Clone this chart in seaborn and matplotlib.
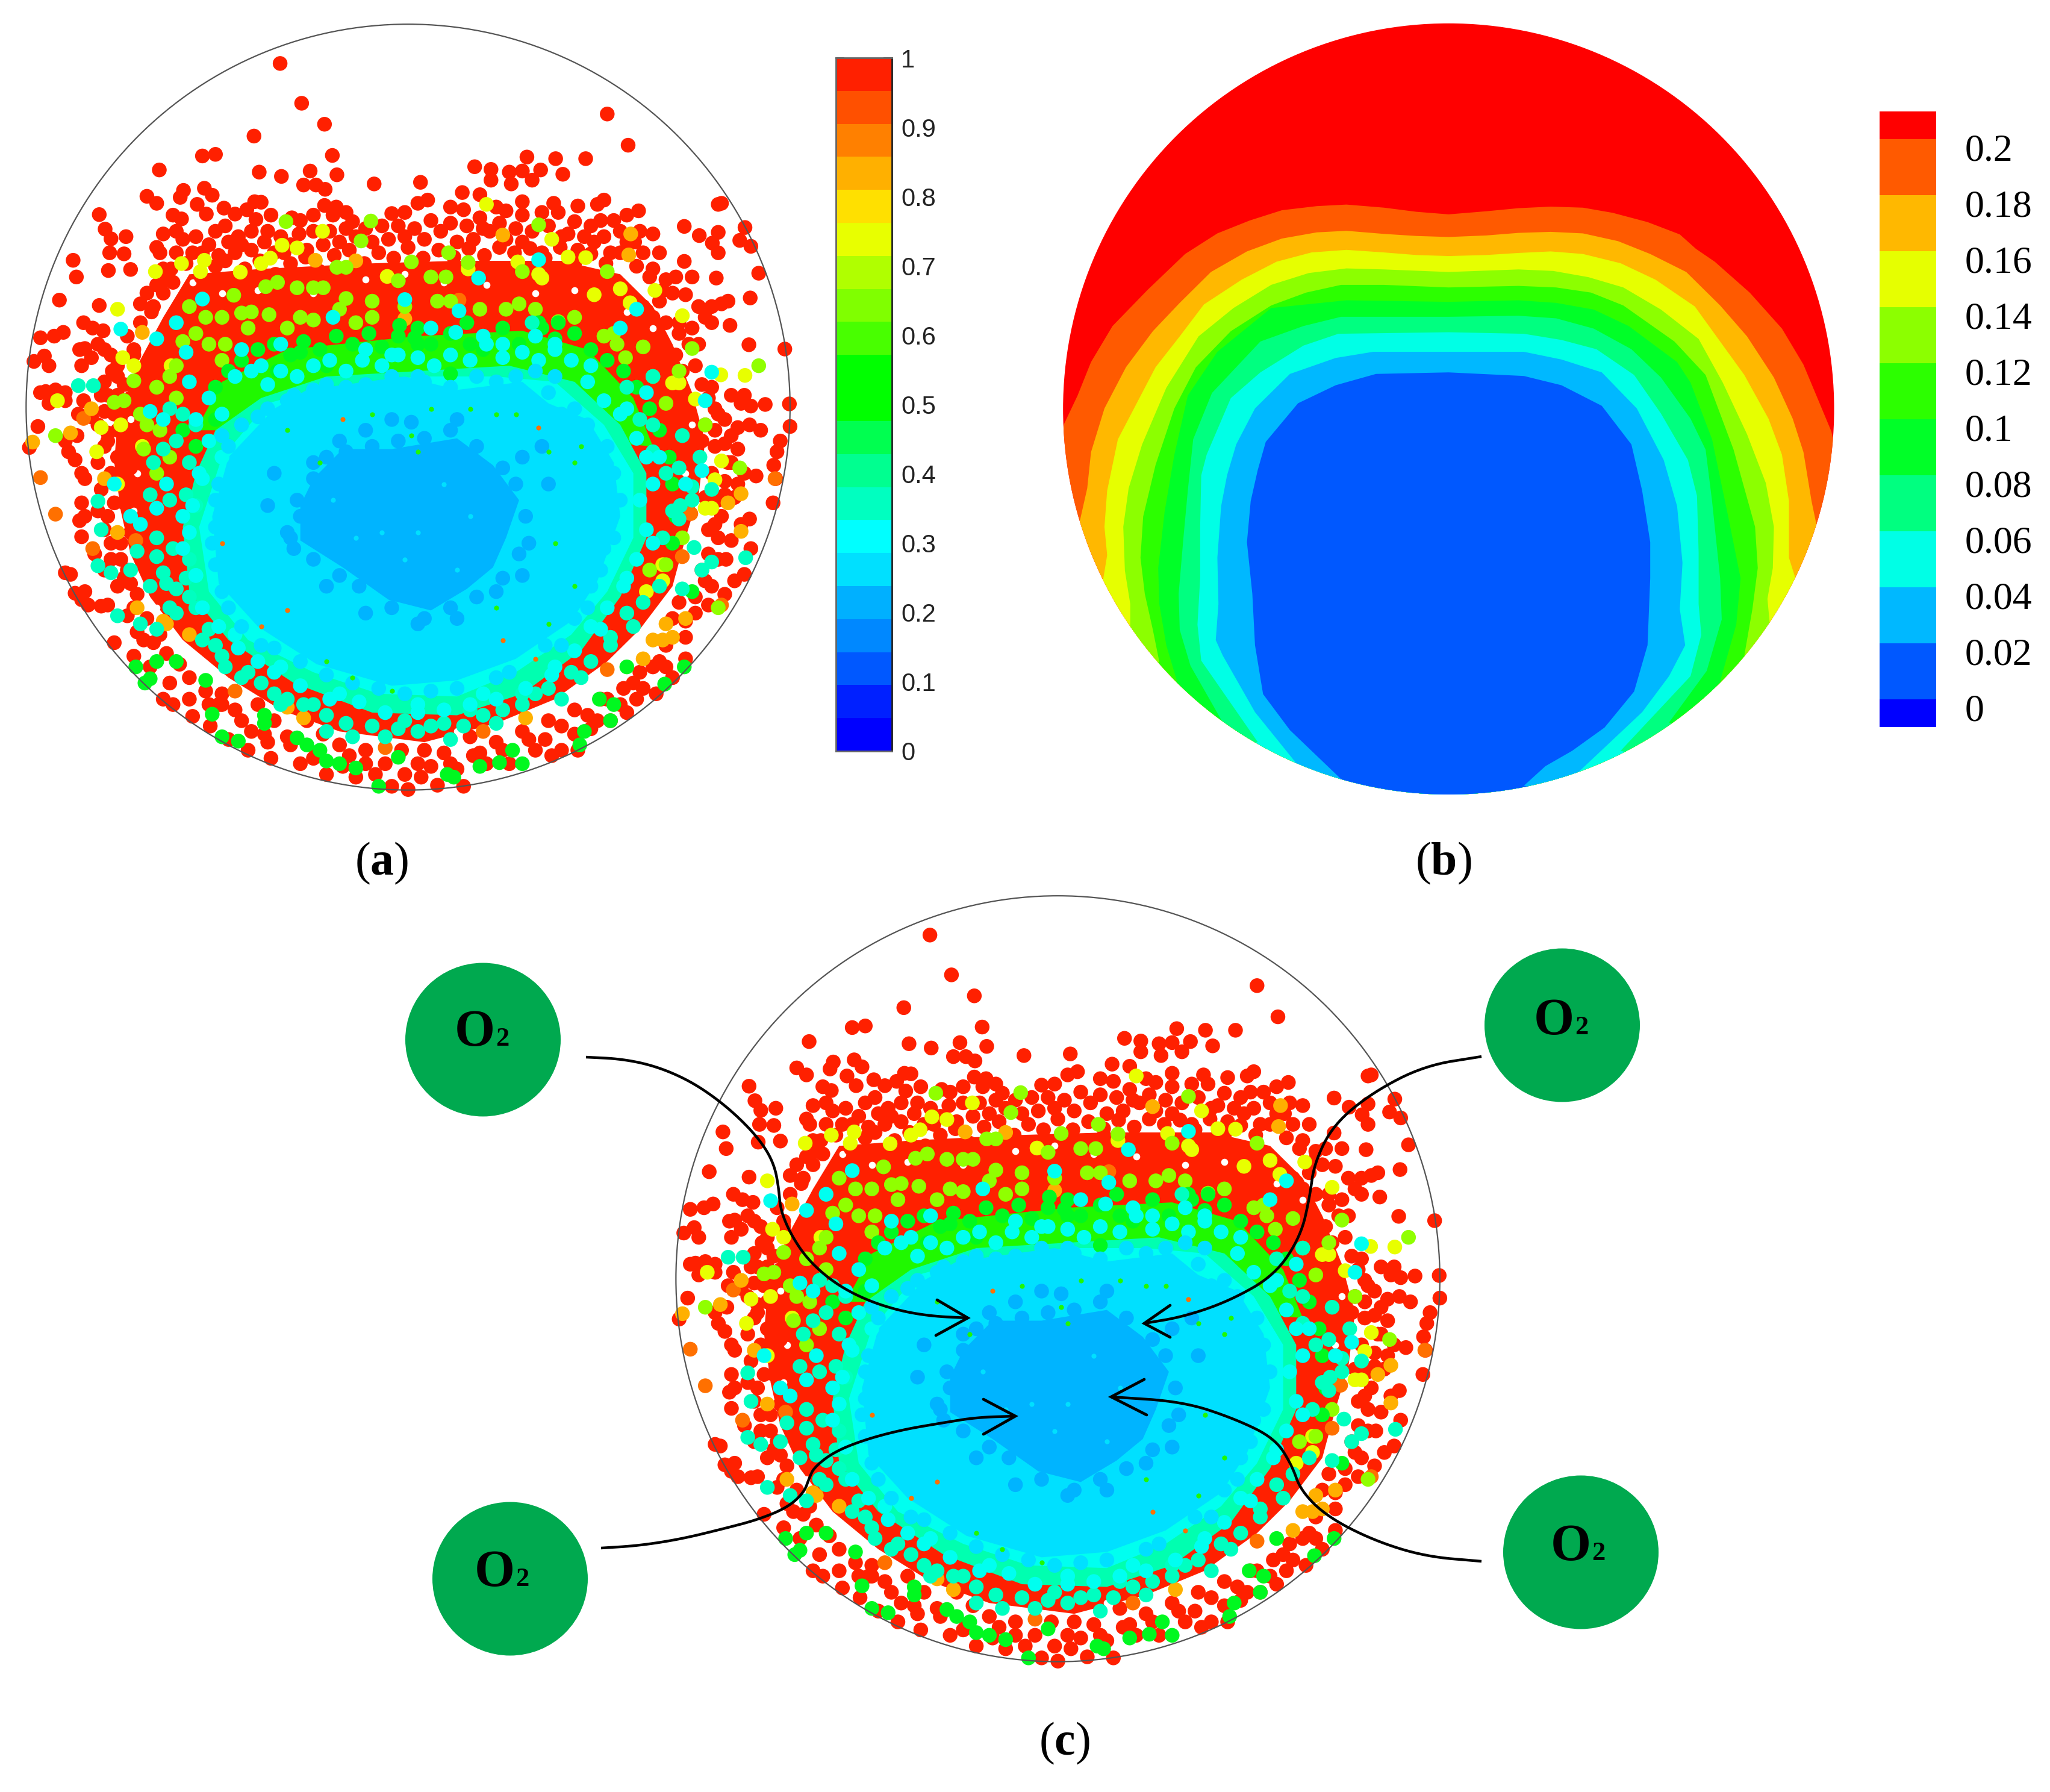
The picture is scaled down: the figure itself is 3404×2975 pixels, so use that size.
import numpy as np
import pandas as pd
import seaborn as sns
import matplotlib
matplotlib.use('Agg')
import matplotlib.pyplot as plt
from matplotlib.colors import ListedColormap
from matplotlib.patches import Ellipse

sns.set_theme(style='white')
plt.rcParams['font.family'] = ['Liberation Serif', 'DejaVu Serif']
plt.rcParams['mathtext.fontset'] = 'custom'
plt.rcParams['mathtext.rm'] = 'Liberation Serif'
plt.rcParams['mathtext.bf'] = 'Liberation Serif:bold'

W, H = 3404, 2975

######################### colour bars #########################
BAR_A_COLORS = ['#0000ff', '#0020ff', '#0058ff', '#0088ff', '#00b0ff', '#00e0ff', '#00ffff',
                '#00ffc0', '#00ff90', '#00ff50', '#00ff00', '#00ff00', '#48ff00', '#80ff00',
                '#b0ff00', '#e8ff00', '#ffe000', '#ffb000', '#ff8000', '#ff5000', '#ff2000']
BAR_A_TICKS = [0, 0.1, 0.2, 0.3, 0.4, 0.5, 0.6, 0.7, 0.8, 0.9, 1]
BAR_A_LABELS = ['0', '0.1', '0.2', '0.3', '0.4', '0.5', '0.6', '0.7', '0.8', '0.9', '1']

BAR_B_COLORS = ['#0000ff', '#0058ff', '#00b8ff', '#00ffe6', '#00ff80', '#00ff28',
                '#2cff00', '#8cff00', '#e6ff00', '#ffb800', '#ff5a00', '#ff0000']
BAR_B_SPANS = [1, 2, 2, 2, 2, 2, 2, 2, 2, 2, 2, 1]
BAR_B_LABELS = ['0.2', '0.18', '0.16', '0.14', '0.12', '0.1', '0.08', '0.06', '0.04', '0.02', '0']

######################### contour outlines, panel b #########################
L1 = [(75,800),(100,745),(125,680),(165,610),(230,540),(300,470),(360,430),(420,405),(480,385),(545,377),(600,374),(670,380),(730,388),(790,393),(860,387),(920,381),(980,378),(1040,380),(1095,390),(1160,408),(1220,432),(1250,460),(1285,485),(1350,545),(1410,615),(1450,685),(1480,760),(1502,815)]
L2 = [(105,985),(118,925),(125,855),(150,770),(190,690),(240,620),(290,565),(348,505),(415,465),(480,440),(545,428),(600,425),(670,431),(730,435),(790,437),(860,434),(920,429),(980,427),(1040,430),(1105,445),(1165,470),(1232,505),(1295,570),(1345,630),(1395,710),(1430,790),(1450,855),(1465,950),(1473,990)]
L3 = [(148,1100),(155,1055),(150,1000),(155,930),(175,830),(205,770),(245,690),(290,630),(335,568),(405,520),(470,485),(535,467),(600,462),(670,467),(730,472),(790,474),(860,472),(920,468),(980,465),(1040,470),(1110,488),(1175,520),(1248,572),(1295,640),(1340,705),(1385,790),(1410,860),(1423,950),(1423,1060),(1435,1100)]
L4 = [(198,1195),(198,1150),(188,1085),(185,1000),(195,925),(220,840),(265,730),(325,630),(390,575),(460,530),(530,507),(600,498),(670,500),(790,505),(920,500),(985,503),(1050,515),(1115,535),(1185,578),(1255,635),(1300,720),(1345,820),(1380,915),(1395,1000),(1393,1080),(1383,1140),(1387,1185)]
L5 = [(252,1262),(240,1200),(225,1130),(217,1060),(222,980),(245,880),(280,770),(320,690),(385,620),(460,570),(525,545),(590,530),(670,530),(790,535),(920,532),(990,535),(1055,545),(1115,570),(1210,640),(1268,705),(1320,850),(1360,1000),(1365,1080),(1355,1160),(1340,1250)]
L6 = [(285,1300),(265,1230),(252,1150),(250,1080),(262,970),(280,860),(305,745),(360,660),(460,575),(525,568),(600,560),(790,563),(920,560),(990,565),(1060,578),(1125,610),(1215,680),(1240,720),(1280,830),(1310,980),(1333,1100),(1325,1190),(1295,1300)]
L7 = [(370,1380),(310,1270),(290,1200),(288,1130),(297,1020),(305,930),(315,830),(350,740),(440,640),(520,610),(590,592),(790,592),(920,590),(990,595),(1060,615),(1130,655),(1185,710),(1240,790),(1268,850),(1280,950),(1295,1100),(1298,1180),(1270,1280),(1200,1380)]
L8 = [(435,1418),(330,1260),(323,1190),(328,1100),(328,1000),(330,900),(340,860),(385,750),(440,700),(520,648),(585,625),(790,622),(930,625),(1000,637),(1065,655),(1135,705),(1185,780),(1235,870),(1252,940),(1255,1050),(1255,1150),(1260,1210),(1240,1290),(1110,1435)]
L9 = [(505,1457),(430,1360),(370,1250),(357,1220),(362,1150),(360,1060),(367,960),(378,900),(395,840),(430,770),(495,703),(580,672),(650,660),(790,660),(930,660),(1000,675),(1075,700),(1140,770),(1190,870),(1215,960),(1225,1070),(1220,1160),(1230,1230),(1200,1290),(1150,1360),(1030,1478)]
L10 = [(590,1490),(545,1445),(495,1395),(445,1325),(430,1230),(425,1130),(415,1030),(422,950),(435,890),(450,835),(510,760),(580,725),(655,703),(790,700),(930,707),(1000,725),(1075,765),(1130,840),(1150,930),(1165,1030),(1165,1100),(1160,1230),(1135,1320),(1080,1390),(1020,1435),(970,1465),(930,1503)]
CONTOURS = [L1, L2, L3, L4, L5, L6, L7, L8, L9, L10]

######################### particles, panels a and c #########################
# dense areas under the particles
RED_BLOB = [(290,510),(400,500),(560,490),(700,485),(860,485),(950,510),(1000,570),(1030,640),(1060,730),(1080,820),(1070,920),(1050,1000),(1030,1090),(980,1170),(930,1230),(850,1300),(760,1345),(650,1380),(520,1360),(430,1320),(350,1260),(280,1190),(230,1110),(200,1030),(185,950),(175,860),(180,780),(210,680),(250,590)]
GREEN_BLOB = [(300,800),(340,710),(440,650),(640,625),(800,615),(900,650),(970,740),(1000,830),(700,800)]
TEAL_BLOB = [(300,880),(330,800),(400,740),(500,700),(640,690),(780,680),(880,710),(950,790),(990,880),(990,1000),(950,1110),(890,1210),(800,1290),(700,1330),(570,1325),(450,1270),(350,1190),(290,1100),(280,980)]
AQUA_BLOB = [(340,850),(410,750),(500,720),(640,700),(760,700),(850,710),(925,790),(970,880),(970,1000),(930,1100),(875,1180),(790,1250),(700,1295),(580,1290),(480,1250),(380,1190),(320,1100),(305,980)]
CYAN_BLOB = [(350,850),(420,760),(470,725),(560,710),(620,700),(700,725),(800,710),(840,750),(900,780),(940,860),(950,960),(915,1080),(875,1155),(790,1225),(700,1265),(600,1275),(485,1235),(395,1165),(335,1085),(325,960)]
BLUE_BLOB = [(480,890),(525,835),(600,835),(700,815),(755,865),(795,930),(775,1000),(755,1055),(715,1095),(660,1135),(595,1115),(525,1055),(460,1005),(460,940)]

RED_PTS = [(429,118),(462,192),(497,231),(389,253),(930,212),(962,270),(310,290),(330,287),(509,289),(244,316),(397,320),(431,328),(475,318),(516,325),(573,342),(465,344),(484,344),(498,352),(644,339),(807,292),(851,295),(897,295),(727,310),(752,315),(780,320),(800,318),(828,316),(752,335),(783,342),(862,324),(815,335),(708,358),(735,362),(800,375),(848,378),(885,383),(915,380),(925,372),(1100,380),(1105,378),(1141,423),(1150,458),(1162,508),(1149,554),(1048,421),(1071,438),(1100,432),(1133,447),(1091,452),(1100,470),(1048,486),(1097,517),(1202,649),(1209,751),(1210,793),(1147,641),(1118,605),(112,484),(117,515),(91,558),(152,399),(161,426),(170,444),(193,440),(168,470),(190,472),(166,503),(200,501),(152,568),(225,365),(240,378),(281,354),(276,367),(313,350),(325,363),(302,380),(343,387),
(265,400),(278,407),(316,398),(360,398),(378,390),(390,375),(400,376),(415,400),(392,408),(447,405),(460,410),(497,382),(515,385),(530,395),(540,412),(510,400),(480,400),(600,397),(620,395),(640,378),(655,372),(690,385),(710,390),(735,405),(760,385),(775,392),(800,400),(830,395),(855,395),(880,412),(905,420),(920,410),(940,410),(960,400),(978,392),(980,430),(1000,435),(330,430),(345,420),(365,440),(350,450),(270,430),(250,435),(240,460),(300,440),(320,455),(385,430),(410,430),(430,440),
(245,470),(270,470),(295,470),(335,475),(360,470),(385,465),(420,470),(445,455),(470,465),(495,455),(520,450),(545,440),(570,450),(595,445),(620,440),(650,445),(675,430),(700,450),(725,445),(750,430),(775,445),(800,450),(830,470),(860,440),(885,465),(910,450),(935,470),(960,450),(985,470),(1010,470),(250,500),(265,525),(250,545),(215,565),(235,570),(1000,500),(1020,520),(1035,515),(1060,515),(1010,560),
(1030,545),(1050,548),(1070,570),(1090,570),(1105,565),(1115,560),(1020,600),(1000,590),(985,570),(1040,600),(1080,590),(1090,600),(1060,610),(1070,640),(1020,650),(1000,640),(1035,660),(1020,680),(1045,690),(1075,715),(1085,740),(1120,735),(1135,750),(1150,755),(1172,752),(1140,735),(1095,760),(1110,780),(1130,795),(1148,790),(1165,800),(1195,820),(1190,840),(1185,865),(1188,890),(1184,935),(1080,790),(1095,800),(1120,810),(1075,820),(1095,830),(1130,835),(1158,885),(1120,860),(1140,880),(1110,895),(1130,900),(1090,880),(1100,930),(1125,925),(1080,925),(1105,960),(1148,965),(1135,975),(1085,985),(1100,1000),(1120,1005),(1150,1020),(1112,1040),(1085,1030),(1075,1060),(1140,1068),(1125,1080),(1090,1090),(1110,1105),(1085,1125),(1065,1110),(1050,1155),(1040,1120),(1030,1150),(1050,1225),(1020,1240),
(62,628),(83,625),(97,618),(128,600),(142,610),(158,615),(130,648),(122,650),(150,640),(140,665),(160,650),(170,660),(205,650),(160,710),(52,672),(68,662),(75,680),(125,680),(180,700),(70,728),(62,730),(100,730),(85,725),(75,750),(100,745),(172,690),(128,745),(140,775),(155,735),(160,765),(180,735),(200,740),(185,770),(120,770),(58,793),(45,832),(118,810),(100,820),(105,840),(115,855),(125,880),(130,890),(160,830),(165,805),(180,800),(205,800),(180,850),(200,870),(215,860),(125,935),(130,960),(122,968),(150,950),(125,998),(165,960),(200,990),(190,935),(210,910),(170,1010),(145,1030),(185,1040),(160,1060),(190,1075),(100,1065),(108,1068),(115,1103),(125,1115),(130,1100),(155,1127),(135,1125),(165,1125),(200,1085),(205,1130),(210,1175),(175,1195),(220,1190),(205,1220),(230,1240),(260,1270),(250,1300),(265,1310),(290,1300),(295,1332),(320,1310),(335,1310),(322,1350),(350,1375),(380,1395),(385,1360),(415,1410),(410,1380),(460,1420),(500,1440),(485,1400),(525,1425),(545,1445),(560,1420),(600,1462),(625,1468),(620,1440),(645,1445),(660,1425),(670,1460),(710,1462),(700,1430),(745,1420),(780,1420),(735,1400),(820,1395),(845,1405),(860,1395),(885,1395),(835,1375),(880,1365),(905,1355),(935,1340),(960,1325),(975,1300),(1005,1290),(1030,1260),(985,1280),(950,1310),(915,1340),
(340,1290),(360,1320),(395,1310),(420,1340),(440,1370),(470,1340),(495,1365),(520,1385),(560,1395),(590,1420),(615,1395),(650,1395),(680,1400),(720,1370),(760,1380),(800,1360),(840,1340),(880,1320),(920,1300),(955,1280),(980,1250),(1010,1230)]
RED_EDGE_PTS = [(262,500),(285,490),(308,515),(330,495),(352,520),(375,500),(398,485),(422,510),(445,490),(468,478),(490,505),(512,475),(535,465),(558,490),(580,470),(603,480),(625,460),(648,480),(672,465),(695,478),(718,462),(742,475),(765,460),(788,470),(812,462),(835,480),(858,460),(880,490),(905,472),(928,490),(950,470),(975,495),(995,515),(1015,540),
(255,520),(240,530),(225,545),(280,445),(310,470),(345,485),(370,455),(405,450),(435,470),(458,435),(480,430),(505,430),(530,425),(560,425),(585,420),(610,420),(635,425),(660,410),(690,415),(715,420),(740,425),(765,415),(790,425),(815,430),(840,420),(870,435),(895,440),(925,440),(950,430),(972,450),
(232,580),(215,600),(195,625),(205,660),(180,680),(190,715),(165,735),(175,770),(150,790),(165,820),(150,860),(170,880),(155,910),(175,935),(160,985),(185,1010),(170,1040),(195,1060),(180,1090),(210,1105),(195,1145),(225,1150),(235,1195),(255,1215),(245,1180),(275,1235),(290,1260),(315,1285),(340,1310),(370,1340),(405,1365),(445,1385),(480,1410),(535,1405),(575,1440),(640,1420),(690,1420),(725,1405),(770,1395),(810,1375),(860,1350),(900,1330),(930,1300),(970,1270),(1000,1240),(1020,1200),(1050,1185),(1065,1140),(1080,1080),(1100,1040),(1095,975),(1110,920),(1115,860),(1110,825),(1100,770),(1090,720),(1065,680),(1055,640),(1040,620)]
DARK_ORANGE_PTS = [(703,558),(128,778),(62,888),(85,956),(208,1005),(142,1020),(360,1285),(590,1390),(740,1360),(930,1245),(1187,890),(1058,955),(1045,1035),(1105,1125)]
ORANGE_PTS = [(770,437),(966,435),(963,474),(483,484),(545,485),(620,593),(612,660),(218,618),(108,805),(50,822),(140,760),(160,890),(180,990),(255,1160),(290,1180),(250,1155),(210,1130),(440,1315),(465,1335),(805,1335),(985,1225),(1015,1190),(1030,1185),(1020,1160),(1115,935),(1135,988),(1135,918),(1050,1150),(1000,1190)]
YELLOW_PTS = [(494,430),(432,456),(455,461),(278,490),(313,484),(238,505),(307,505),(368,506),(400,490),(414,480),(593,514),(825,510),(845,445),(870,478),(897,479),(793,487),(717,500),(830,517),(910,548),(950,537),(1003,540),(965,563),(1045,587),(180,575),(188,665),(205,680),(262,680),(88,745),(155,795),(185,790),(218,830),(148,840),(180,900),(1104,697),(1141,698),(1030,712),(1040,712),(1065,742),(1080,945),(1090,945),(1095,892),(1105,857),(745,380),(1015,1050),(1015,1080),(990,1100)]
LIME_PTS = [(438,412),(568,411),(825,418),(553,448),(687,470),(516,497),(530,497),(630,487),(717,488),(800,505),(660,515),(683,515),(610,522),(930,505),(358,549),(407,533),(425,525),(455,535),(480,535),(495,535),(570,560),(530,555),(290,570),(315,590),(340,590),(370,582),(385,580),(412,585),(440,610),(480,595),(545,600),(570,590),(670,560),(735,575),(775,575),(795,565),(855,598),(925,625),(940,620),(985,645),(958,665),(1060,648),(1040,690),(340,670),(320,640),(345,640),(280,635),(270,680),(240,720),(205,708),(175,748),(215,770),(220,835),(190,745),(85,810),(1162,680),(1080,790),(1045,1000),(1133,870),(1020,1050),(995,1060),(1100,1130),
(300,620),(380,610),(460,590),(520,575),(620,570),(690,560),(820,575),(880,590),(945,640),(1000,700),(1020,750),(260,700),(245,800),(225,790),(260,850),(240,880),(270,740)]
GREEN_PTS = [(612,605),(635,628),(690,695),(580,1462),(545,1428),(500,1415),(340,1370),(365,1378),(405,1345),(455,1372),(470,1385),(490,1395),(520,1420),(610,1408),(685,1440),(695,1445),(735,1425),(765,1418),(800,1420),(785,1395),(888,1385),(895,1360),(935,1340),(918,1300),(940,1310),(325,1328),(405,1330),(208,1240),(222,1270),(230,1262),(1018,1272),(1048,1240),(960,1240),(240,1230),(270,1230),(315,1265),(855,600),(830,610),(720,640),(640,640),(500,680),(425,690),(460,655),(280,800),(300,830),(330,780),(1060,1100),(1030,1010),
(330,720),(350,690),(370,670),(395,650),(420,640),(445,660),(465,635),(490,650),(515,625),(540,640),(565,620),(585,645),(610,625),(640,610),(660,640),(690,620),(715,600),(740,650),(770,610),(795,640),(825,600),(850,630),(880,620),(905,650),(930,670),(955,690),(975,720),(995,760),(1010,800),(1025,850),(1030,900),(1035,960)]
TEAL_PTS = [(120,717),(143,717),(150,932),(155,985),(150,1052),(170,1065),(180,1145),(215,1160),(240,1170),(200,1060),(210,1025),(240,1000),(250,1065),(270,1095),(290,1110),(320,1170),(330,1200),(380,1250),(345,1240),(420,1290),(500,1360),(540,1370),(590,1370),(660,1350),(690,1375),(760,1345),(820,1290),(860,1300),(890,1260),(935,1185),(970,1165),(1045,1095),(1090,1045),(1075,1060),(1142,1037),(1063,1018),(1040,965),(1090,910),(1042,940),(1060,905),(1072,850),(1045,810),(1000,790),(815,600),(440,1300),(480,1310),(620,1340),(720,1320),(800,1310),(230,1090),(260,1130),
(260,760),(280,770),(270,820),(300,790),(290,860),(250,835),(235,860),(260,930),(230,920),(285,920),(300,940),(240,1035),(265,1020),(290,1040),(255,1085),(285,1075),(300,1130),(270,1140),(310,1190),(340,1220),(370,1260),(400,1270),(430,1310),(465,1310),(500,1330),(530,1345),(570,1350),(610,1355),(640,1360),(680,1345),(710,1350),(740,1330),(770,1320),(800,1290),(840,1280),(875,1250),(905,1230),(935,1200),(960,1140),(985,1120),(1010,1090),(1015,1000),(1030,950),(1020,880),(1000,840),(980,780),(1040,870),(1060,930),(1000,700),(960,720)]
AQUA_PTS = [(185,612),(230,765),(310,556),(285,655),(240,630),(270,600),(825,483),(733,517),(620,557),(703,578),(660,610),(698,618),(740,625),(770,640),(820,625),(850,650),(950,610),(975,575),(1090,692),(1080,745),(1075,875),(990,730),(960,760),(1010,850),(1050,900),(370,650),(400,680),(430,640),(510,590),(560,650),(600,660),(905,680),(250,780),(290,710),(320,740),(300,780),(340,850),(310,890),(255,900),(200,960),(215,975),(175,900),(240,945),(280,960),(980,930),(1000,1010),(955,1090),(920,1170),(850,1240),(740,1290),(640,1310),(520,1290),(420,1250),(360,1180),(300,1070),(280,1020),
(360,700),(385,690),(410,715),(430,690),(455,700),(480,680),(505,670),(530,690),(555,670),(585,680),(610,660),(640,665),(665,680),(690,660),(720,670),(745,640),(770,665),(800,655),(825,670),(850,640),(875,670),(900,710),(925,745),(950,770),(975,815),(990,850),(1000,900),(990,985),(975,1040),(960,1075),(930,1130),(905,1165),(880,1210),(845,1255),(805,1280),(760,1300),(720,1310),(680,1320),(640,1325),(590,1325),(550,1305),(505,1300),(460,1275),(430,1240),(395,1230),(365,1205),(335,1165),(310,1130),(300,1070),(290,990),(295,940),(305,880),(320,820),(340,770)]
CYAN_PTS = [(395,775),(440,745),(480,725),(530,720),(600,700),(650,710),(760,710),(820,690),(850,700),(880,760),(900,790),(930,830),(940,880),(950,930),(940,1000),(920,1060),(900,1130),(860,1200),(780,1250),(700,1280),(620,1290),(540,1270),(460,1230),(400,1200),(350,1130),(330,1050),(330,980),(335,900),(350,830),
(340,810),(370,790),(410,760),(450,735),(500,715),(560,715),(640,700),(690,720),(730,700),(790,700),(840,730),(860,770),(905,830),(920,880),(930,960),(925,1020),(905,1090),(880,1150),(835,1200),(760,1260),(660,1285),(580,1280),(500,1255),(420,1205),(370,1165),(340,1100),(325,1010),(330,930)]
BLUE_PTS = [(520,820),(560,800),(600,780),(630,785),(700,780),(800,850),(830,830),(840,900),(810,1010),(800,1070),(760,1100),(700,1150),(640,1160),(560,1140),(500,1090),(450,1020),(440,990),(460,960),(480,860),(420,880),(410,940),
(480,890),(500,850),(530,840),(570,830),(610,820),(650,815),(690,800),(730,830),(770,870),(790,900),(805,960),(795,1030),(770,1075),(730,1110),(690,1130),(650,1150),(600,1130),(550,1090),(520,1070),(480,1040),(445,1000),(455,930)]
# slivers of buried particles showing between the others
GREEN_SPECKS = [(630,810),(640,840),(490,860),(440,800),(790,770),(840,840),(880,860),(890,830),(500,1230),(540,1260),(600,1285),(660,760),(720,760),(760,770),(570,770),(760,1130),(850,1010),(880,1090),(840,1160)]
RED_SPECKS = [(825,795),(525,780),(400,1165),(340,1010),(440,1135),(820,1225),(770,1190)]
AQUA_SPECKS = [(545,1000),(585,990),(640,990),(700,1060),(510,930),(720,960),(620,1040),(680,900)]
# background showing through the red band
WHITE_SPECKS = [(295,525),(340,545),(395,540),(480,545),(560,520),(620,510),(680,525),(745,530),(820,545),(880,540),(960,580),(1000,610),(1040,700),(1060,790),(1050,880),(1060,960),(200,780),(210,880),(205,950),(240,1130),(300,1250),(420,1340),(560,1390),(700,1360),(880,1300),(1000,1180)]

PARTICLE_GROUPS = [(RED_PTS, 0.97), (RED_EDGE_PTS, 0.97), (DARK_ORANGE_PTS, 0.9), (ORANGE_PTS, 0.85),
                   (YELLOW_PTS, 0.75), (LIME_PTS, 0.65), (GREEN_PTS, 0.5), (TEAL_PTS, 0.37),
                   (AQUA_PTS, 0.3), (CYAN_PTS, 0.27), (BLUE_PTS, 0.22)]
LEVEL_COLORS = {0.97: '#ff2000', 0.9: '#ff7000', 0.85: '#ffb000', 0.75: '#e8ff00', 0.65: '#90ff00',
                0.5: '#00f820', 0.37: '#00ffc0', 0.3: '#00fff0', 0.27: '#00e0ff', 0.22: '#00b4ff'}
BLOBS = [(RED_BLOB, '#ff2000'), (GREEN_BLOB, '#20f800'), (TEAL_BLOB, '#00ffb0'),
         (AQUA_BLOB, '#00fff0'), (CYAN_BLOB, '#00e0ff'), (BLUE_BLOB, '#00b4ff')]

######################### panel c annotations #########################
O2_CENTERS = [(802, 1726), (2594, 1702), (847, 2621), (2625, 2577)]
O2_TEXT_X = [755, 2547, 788, 2575]
O2_TEXT_Y = [1736, 1717, 2633, 2590]

ARROW_1 = [(973,1755),(1033,1758),(1089,1770),(1145,1794),(1194,1827),(1236,1864),(1268,1901),(1286,1935),(1293,1972),(1296,2009),(1314,2051),(1342,2092),(1384,2129),(1433,2156),(1489,2175),(1545,2185),(1607,2188)]
HEAD_1 = [(1556,2158),(1607,2188),(1554,2217)]
ARROW_2 = [(2460,1754),(2366,1769),(2280,1813),(2214,1867),(2182,1932),(2175,1986),(2160,2052),(2117,2117),(2041,2160),(1965,2186),(1900,2197)]
HEAD_2 = [(1943,2167),(1900,2197),(1943,2220)]
ARROW_3 = [(998,2570),(1061,2566),(1131,2555),(1201,2538),(1258,2523),(1307,2503),(1335,2478),(1344,2453),(1352,2436),(1384,2411),(1433,2391),(1496,2374),(1566,2362),(1622,2353),(1686,2351)]
HEAD_3 = [(1633,2323),(1686,2351),(1633,2381)]
ARROW_4 = [(2460,2592),(2366,2584),(2280,2557),(2204,2518),(2160,2475),(2145,2432),(2117,2388),(2052,2356),(1965,2327),(1845,2319)]
HEAD_4 = [(1900,2290),(1845,2319),(1904,2349)]

PANEL_LABELS = ['a', 'b', 'c']
PANEL_X = [634, 2397, 1767]
PANEL_Y = [1433, 1433, 2894]


def px_axes(fig, left, top, width, height):
    return fig.add_axes([left / W, 1 - (top + height) / H, width / W, height / H])


def smooth(points, rounds=3):
    # corner cutting, keeps both ends
    pts = np.array(points, dtype=float)
    for _ in range(rounds):
        q = 0.75 * pts[:-1] + 0.25 * pts[1:]
        r = 0.25 * pts[:-1] + 0.75 * pts[1:]
        mid = np.empty((q.shape[0] * 2, 2))
        mid[0::2] = q
        mid[1::2] = r
        pts = np.vstack([pts[0], mid, pts[-1]])
    return pts


def draw_particles(ax):
    ax.fill(*zip(*RED_BLOB), color='#ff2000', lw=0, zorder=1)
    gx, gy = zip(*WHITE_SPECKS)
    sns.scatterplot(x=list(gx), y=list(gy), color='white', s=70, linewidth=0, ax=ax, zorder=1.5)
    for blob, colour in BLOBS[1:]:
        ax.fill(*zip(*blob), color=colour, lw=0, zorder=3)
    rows = []
    for pts, level in PARTICLE_GROUPS:
        rows += [(x, y, level) for x, y in pts]
    df = pd.DataFrame(rows, columns=['x', 'y', 'level'])
    # red to orange stay under the inner blobs, the rest sit on top of them
    outer = df[df['level'] >= 0.75]
    inner = df[df['level'] < 0.75]
    sns.scatterplot(data=outer, x='x', y='y', hue='level', palette=LEVEL_COLORS, s=310,
                    linewidth=0, legend=False, ax=ax, zorder=2)
    sns.scatterplot(data=inner, x='x', y='y', hue='level', palette=LEVEL_COLORS, s=310,
                    linewidth=0, legend=False, ax=ax, zorder=4)
    for specks, colour in [(GREEN_SPECKS, '#20f800'), (RED_SPECKS, '#ff7000'), (AQUA_SPECKS, '#00e0ff')]:
        sx, sy = zip(*specks)
        sns.scatterplot(x=list(sx), y=list(sy), color=colour, s=35, linewidth=0, ax=ax, zorder=5)
    ax.add_patch(Ellipse((625, 757), 1170, 1424, fill=False, ec='#555555', lw=1.6, zorder=6))
    ax.set_xlim(0, 1568)
    ax.set_ylim(1568, 0)
    ax.axis('off')


fig = plt.figure(figsize=(W / 100, H / 100), dpi=100, facecolor='white')

# panel a and c share the particles
ax_a = px_axes(fig, 0, 0, 1700, 1400)
draw_particles(ax_a)
ax_c = px_axes(fig, 1079, 1447, 1700, 1400)
draw_particles(ax_c)

# colour bar a
ax_bar_a = px_axes(fig, 1388, 96, 93, 1151)
bar_a = pd.DataFrame({'v': np.arange(len(BAR_A_COLORS))[::-1]})
sns.heatmap(bar_a, cmap=ListedColormap(BAR_A_COLORS), cbar=False, ax=ax_bar_a, xticklabels=False)
ax_bar_a.set_ylabel('')
ax_bar_a.yaxis.tick_right()
ax_bar_a.set_yticks([(1 - v) * len(BAR_A_COLORS) for v in BAR_A_TICKS])
ax_bar_a.set_yticklabels(BAR_A_LABELS, rotation=0, fontsize=30, family='Liberation Sans', color='#222222')
ax_bar_a.tick_params(axis='y', left=True, right=True, direction='in', length=10, width=1.4,
                     color='#333333', pad=11)
for name, spine in ax_bar_a.spines.items():
    spine.set_visible(True)
    spine.set_color('#222222' if name == 'right' else '#666666')
    spine.set_linewidth(2)

# panel b
ax_b = px_axes(fig, 1700, 20, 1400, 1340)
disc = Ellipse((790, 771), 1434, 1498, fc=BAR_B_COLORS[-1], ec='none', zorder=1)
ax_b.add_patch(disc)
for outline, colour in zip(CONTOURS, BAR_B_COLORS[::-1][1:]):
    band = ax_b.fill(*zip(*(outline + [(1650, 1600), (-80, 1600)])), color=colour, lw=0, zorder=2)[0]
    band.set_clip_path(disc)
ax_b.set_xlim(0, 1568)
ax_b.set_ylim(1568, 0)
ax_b.axis('off')

# colour bar b
ax_bar_b = px_axes(fig, 3121, 185, 94, 1022)
bar_b = pd.DataFrame({'v': np.repeat(np.arange(len(BAR_B_COLORS)), BAR_B_SPANS)[::-1]})
sns.heatmap(bar_b, cmap=ListedColormap(BAR_B_COLORS), cbar=False, ax=ax_bar_b, xticklabels=False)
ax_bar_b.set_ylabel('')
ax_bar_b.yaxis.tick_right()
ax_bar_b.set_yticks([1.29 + 2 * i for i in range(len(BAR_B_LABELS))])
ax_bar_b.set_yticklabels(BAR_B_LABELS, rotation=0, fontsize=46, color='black')
ax_bar_b.tick_params(axis='y', left=False, right=False, length=0, pad=34)

# overlay in figure pixels
ov = fig.add_axes([0, 0, 1, 1], zorder=10)
ov.set_xlim(0, W)
ov.set_ylim(H, 0)
ov.axis('off')

for (cx, cy), tx, ty in zip(O2_CENTERS, O2_TEXT_X, O2_TEXT_Y):
    ov.add_patch(Ellipse((cx, cy), 258, 255, fc='#00a94f', ec='none'))
    ov.text(tx, ty, 'O', fontsize=62, fontweight='bold', color='black', va='baseline', ha='left')
    ov.text(tx + 68, ty, '2', fontsize=32, fontweight='bold', color='black', va='baseline', ha='left')

for path, head in [(ARROW_1, HEAD_1), (ARROW_2, HEAD_2), (ARROW_3, HEAD_3), (ARROW_4, HEAD_4)]:
    curve = smooth(path)
    ov.plot(curve[:, 0], curve[:, 1], color='black', lw=3.2, solid_capstyle='butt')
    ov.plot(*zip(*head), color='black', lw=3.4, solid_joinstyle='miter')

for label, x, y in zip(PANEL_LABELS, PANEL_X, PANEL_Y):
    ov.text(x, y, r'$\mathrm{(}\mathbf{%s}\mathrm{)}$' % label, fontsize=56, color='black',
            ha='center', va='center')

fig.savefig('out.png', dpi=100, facecolor='white')
